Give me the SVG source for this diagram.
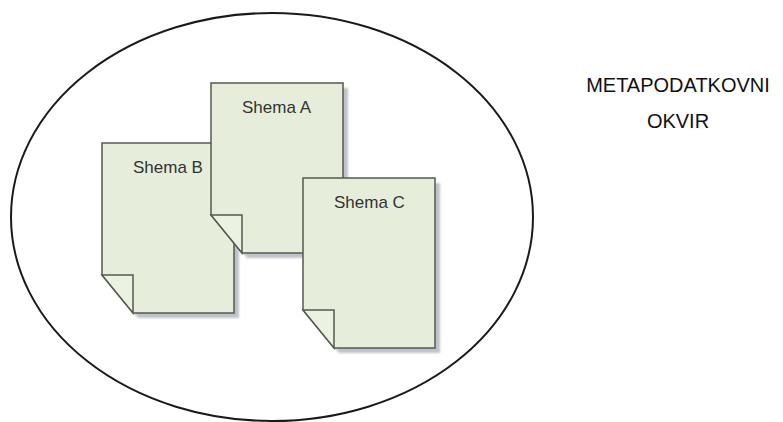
<svg xmlns="http://www.w3.org/2000/svg" width="783" height="422" viewBox="0 0 783 422">
  <defs>
    <style>
      .frame { fill: none; stroke: #1a1a1a; stroke-width: 2; }
      .shadow { fill: #bfc2c8; filter: url(#soft); }
      .sheet { fill: #e6eedb; stroke: #555a50; stroke-width: 1.5; stroke-linejoin: miter; }
      .fold { fill: #ebf2e1; stroke: #555a50; stroke-width: 1.5; }
      .name { font-family: "Liberation Sans", Arial, sans-serif; font-size: 17px; fill: #333333; }
      .caption { font-family: "Liberation Sans", Arial, sans-serif; font-size: 20px; fill: #111111; text-anchor: middle; }
    </style>
    <filter id="soft" x="-10%" y="-10%" width="120%" height="120%">
      <feGaussianBlur stdDeviation="0.8"/>
    </filter>
    <!-- one page with a folded lower-left corner, 132 x 170 -->
    <g id="page">
      <path class="shadow" d="M5,5 H137 V175 H36 L5,137 Z"/>
      <path class="sheet" d="M0,0 H132 V170 H31 L0,132 Z"/>
      <path class="fold" d="M0,132 H31 V170 Z"/>
    </g>
  </defs>

  <rect width="783" height="422" fill="#ffffff"/>

  <g id="framework">
    <ellipse class="frame" cx="272" cy="217" rx="261" ry="204"/>
  </g>

  <g id="shema-b">
    <use href="#page" x="102" y="143"/>
    <text class="name" x="133" y="173">Shema B</text>
  </g>

  <g id="shema-a">
    <use href="#page" x="211" y="83"/>
    <text class="name" x="242" y="113">Shema A</text>
  </g>

  <g id="shema-c">
    <use href="#page" x="303" y="178"/>
    <text class="name" x="334" y="208">Shema C</text>
  </g>

  <g id="label">
    <text class="caption" x="678" y="92">METAPODATKOVNI</text>
    <text class="caption" x="678" y="128">OKVIR</text>
  </g>

  <g id="connectors"/>
</svg>
